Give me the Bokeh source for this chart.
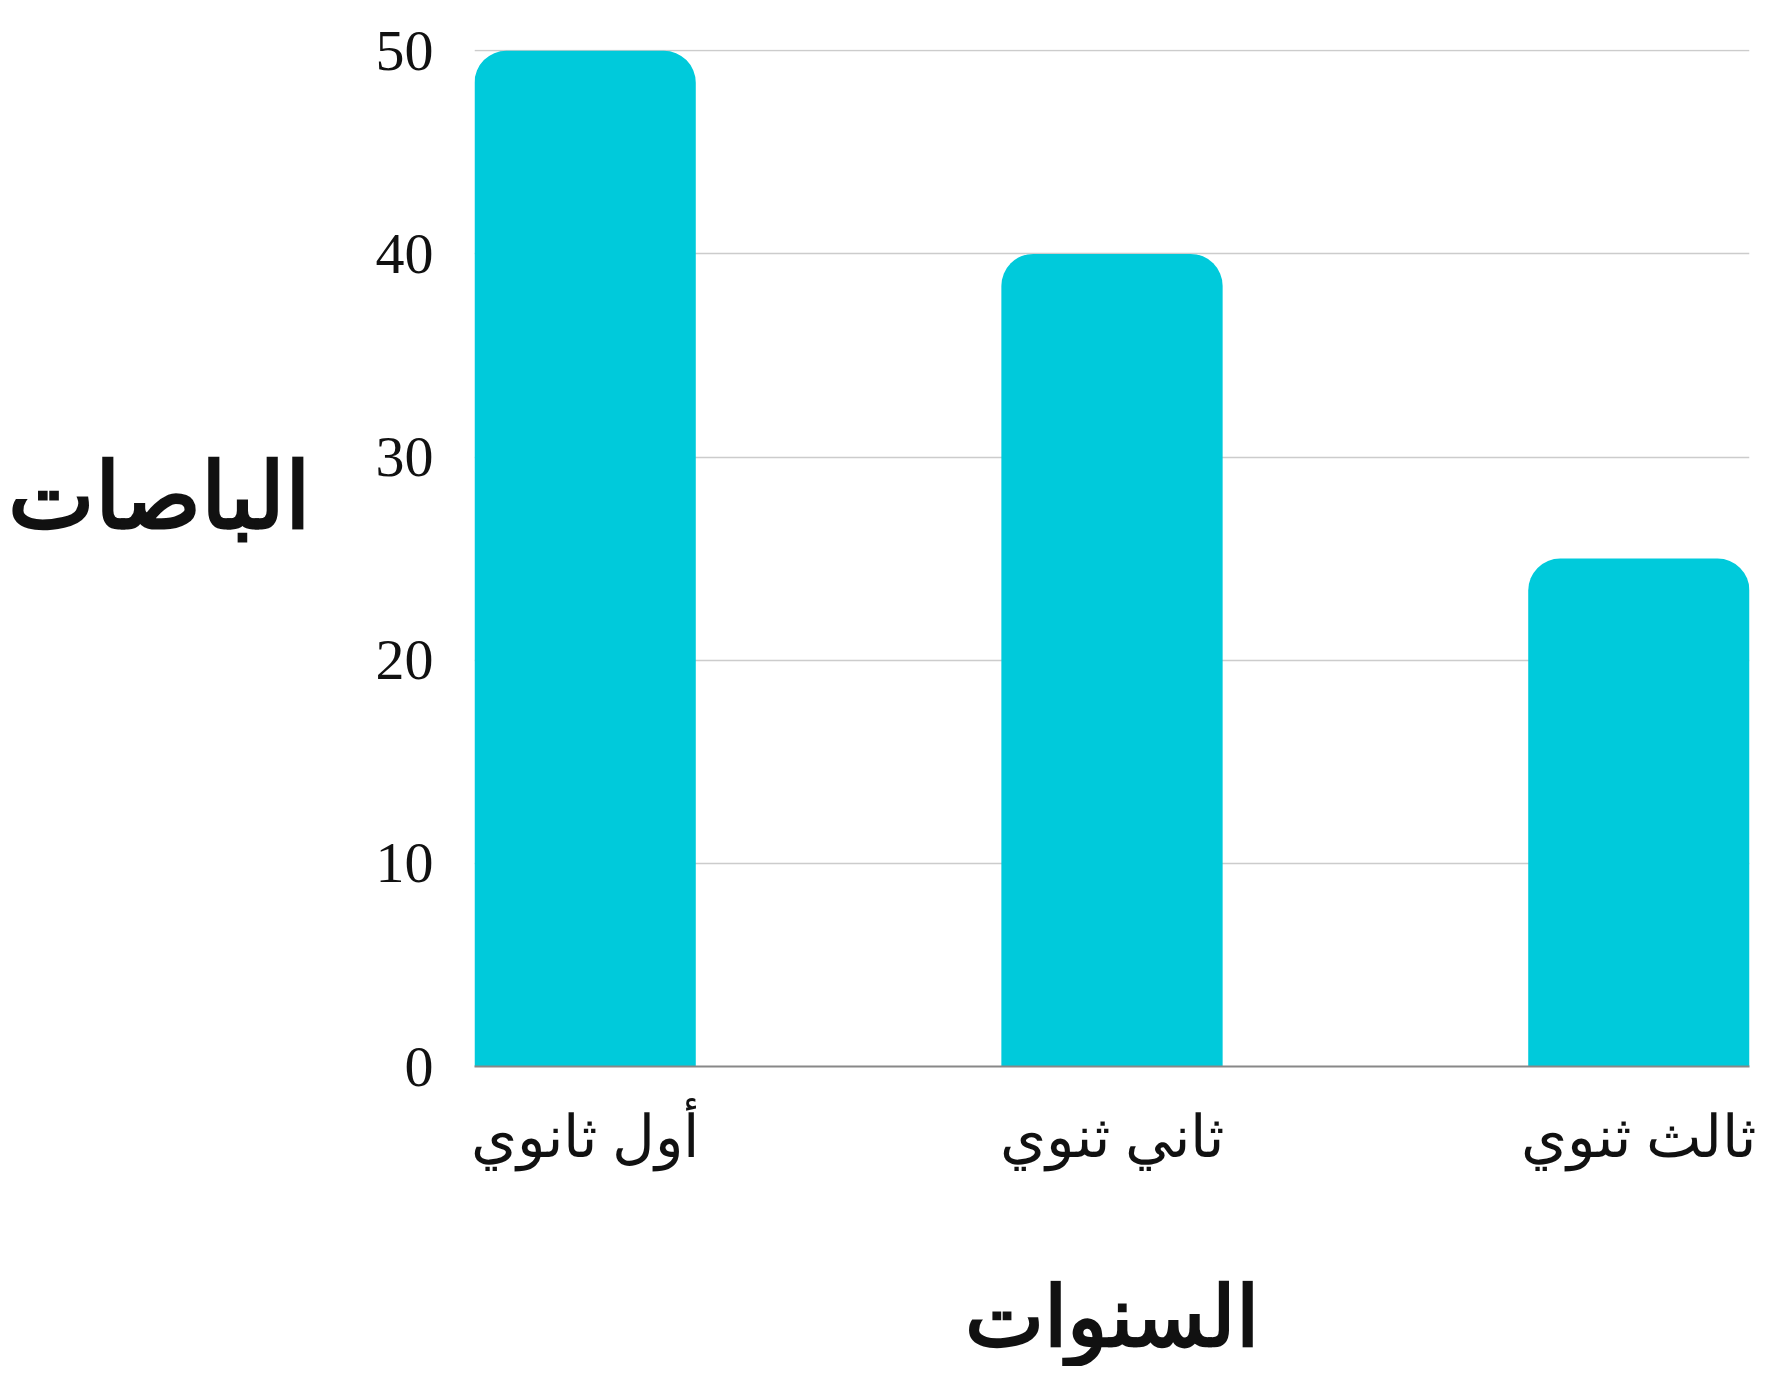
from bokeh.plotting import figure
from bokeh.models import Range1d, FixedTicker
from bokeh.embed import file_html
from bokeh.resources import INLINE

categories = ["أول ثانوي", "ثاني ثنوي", "ثالث ثنوي"]
values = [50, 40, 25]
y_ticks = [0, 10, 20, 30, 40, 50]
x_title = "السنوات"
y_title = "الباصات"

BAR_W = 0.42
xs = list(range(len(categories)))

p = figure(width=1776, height=1366, output_backend="svg", toolbar_location=None,
           x_range=Range1d(-BAR_W / 2, len(categories) - 1 + BAR_W / 2),
           y_range=Range1d(0, 50.06),
           min_border_left=474, min_border_right=27, min_border_top=49, min_border_bottom=297)
p.outline_line_color = None
p.background_fill_color = "white"
p.border_fill_color = "white"

p.vbar(x=xs, top=values, bottom=0, width=BAR_W, fill_color="#00CADB", line_color=None,
       border_radius=(32, 32, 0, 0))

# grid
p.xgrid.visible = False
p.ygrid.ticker = FixedTicker(ticks=y_ticks)
p.ygrid.grid_line_color = "#cccccc"
p.ygrid.grid_line_width = 1.5

# y axis
p.yaxis.ticker = FixedTicker(ticks=y_ticks)
p.yaxis.axis_line_color = None
p.yaxis.major_tick_line_color = None
p.yaxis.minor_tick_line_color = None
p.yaxis.major_label_standoff = 35
p.yaxis.major_label_text_font = "Liberation Serif"
p.yaxis.major_label_text_font_size = "58px"
p.yaxis.major_label_text_color = "#111111"
# second (empty) line lifts the horizontal title above the frame's middle, as in the reference
p.yaxis.axis_label = y_title + "\n "
p.yaxis.axis_label_orientation = "horizontal"
p.yaxis.axis_label_text_font = "Liberation Serif"
p.yaxis.axis_label_text_font_size = "92px"
p.yaxis.axis_label_text_font_style = "bold"
p.yaxis.axis_label_text_color = "#111111"
p.yaxis.axis_label_standoff = 62

# x axis
p.xaxis.ticker = FixedTicker(ticks=xs)
p.xaxis.major_label_overrides = {i: c for i, c in enumerate(categories)}
p.xaxis.axis_line_color = "#888888"
p.xaxis.axis_line_width = 2
p.xaxis.major_tick_line_color = None
p.xaxis.minor_tick_line_color = None
p.xaxis.major_label_standoff = 31
p.xaxis.major_label_text_font = "Liberation Serif"
p.xaxis.major_label_text_font_size = "59px"
p.xaxis.major_label_text_color = "#111111"
p.xaxis.axis_label = x_title
p.xaxis.axis_label_standoff = 98
p.xaxis.axis_label_text_font = "Liberation Serif"
p.xaxis.axis_label_text_font_size = "84px"
p.xaxis.axis_label_text_font_style = "bold"
p.xaxis.axis_label_text_color = "#111111"

open("out.html", "w").write(file_html(p, INLINE))
